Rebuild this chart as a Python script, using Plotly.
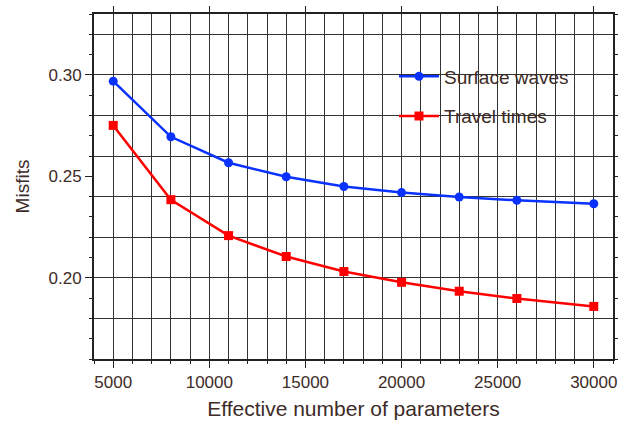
import plotly.graph_objects as go

# Effective number of parameters vs. misfit for the two data sets
n_params = [5000, 8000, 11000, 14000, 17000, 20000, 23000, 26000, 30000]
surface_waves = [0.2969, 0.2695, 0.2567, 0.2498, 0.2450, 0.2420, 0.2398, 0.2382, 0.2365]
travel_times = [0.2751, 0.2385, 0.2208, 0.2105, 0.2031, 0.1978, 0.1934, 0.1898, 0.1859]

x_range = [4000, 31000]
y_range = [0.16, 0.33]

text_color = "#3d2b27"
grid_color = "#333333"
frame_color = "#222222"
font_family = "Liberation Sans, Arial, Helvetica, sans-serif"

fig = go.Figure()

fig.add_trace(go.Scatter(
    x=n_params, y=surface_waves, mode="lines+markers", name="Surface waves",
    line=dict(color="#0a32ff", width=2.5),
    marker=dict(symbol="circle", size=9, color="#0a32ff"),
    legendgroup="sw",
))
fig.add_trace(go.Scatter(
    x=n_params, y=travel_times, mode="lines+markers", name="Travel times",
    line=dict(color="#ff0000", width=2.5),
    marker=dict(symbol="square", size=9, color="#ff0000"),
    legendgroup="tt",
))

fig.update_layout(
    width=618, height=421,
    margin=dict(l=94, r=5, t=14, b=62, autoexpand=False),
    paper_bgcolor="white", plot_bgcolor="white",
    font=dict(family=font_family, color=text_color, size=17),
    showlegend=True,
    legend=dict(
        x=0.578, y=0.874, xanchor="left", yanchor="top",
        bgcolor="rgba(0,0,0,0)", borderwidth=0,
        font=dict(size=19, color=text_color),
        tracegroupgap=12, itemwidth=40,
    ),
    xaxis=dict(
        range=x_range, tick0=5000, dtick=5000, tickformat="d",
        automargin=False,
        showgrid=True, gridcolor=grid_color, gridwidth=1,
        ticks="outside", ticklen=7, tickwidth=1, tickcolor=frame_color,
        showline=True, linecolor=frame_color, linewidth=2, mirror=True,
        zeroline=False,
        tickfont=dict(size=17, color=text_color),
        title=dict(text="Effective number of parameters",
                   font=dict(size=21, color=text_color), standoff=10),
        minor=dict(dtick=1000, tick0=4000, ticks="outside", ticklen=3,
                   tickcolor=frame_color, showgrid=True,
                   gridcolor=grid_color, gridwidth=1),
    ),
    xaxis2=dict(
        overlaying="x", side="top", matches="x", range=x_range,
        automargin=False,
        tick0=5000, dtick=5000, ticks="outside", ticklen=7,
        tickcolor=frame_color, showticklabels=False, showgrid=False,
        zeroline=False, showline=False,
    ),
    yaxis=dict(
        range=y_range, tick0=0, dtick=0.05, tickformat=".2f",
        automargin=False,
        showgrid=False,
        ticks="outside", ticklen=7, tickwidth=1, tickcolor=frame_color,
        showline=True, linecolor=frame_color, linewidth=2, mirror="ticks",
        zeroline=False,
        tickfont=dict(size=17, color=text_color),
        title=dict(text="Misfits", font=dict(size=19, color=text_color),
                   standoff=14),
        minor=dict(dtick=0.01, tick0=0, ticks="outside", ticklen=3,
                   tickcolor=frame_color, showgrid=False),
    ),
    yaxis2=dict(
        overlaying="y", matches="y", range=y_range, automargin=False,
        tick0=0, dtick=0.02, showgrid=True, gridcolor=grid_color,
        gridwidth=1, showticklabels=False, ticks="", zeroline=False,
        showline=False,
    ),
)

# Invisible trace to activate the secondary axes used for the top ticks
# and the horizontal grid
fig.add_trace(go.Scatter(x=[None], y=[None], xaxis="x2", yaxis="y2",
                         showlegend=False, hoverinfo="skip"))

fig.write_html("out.html")
